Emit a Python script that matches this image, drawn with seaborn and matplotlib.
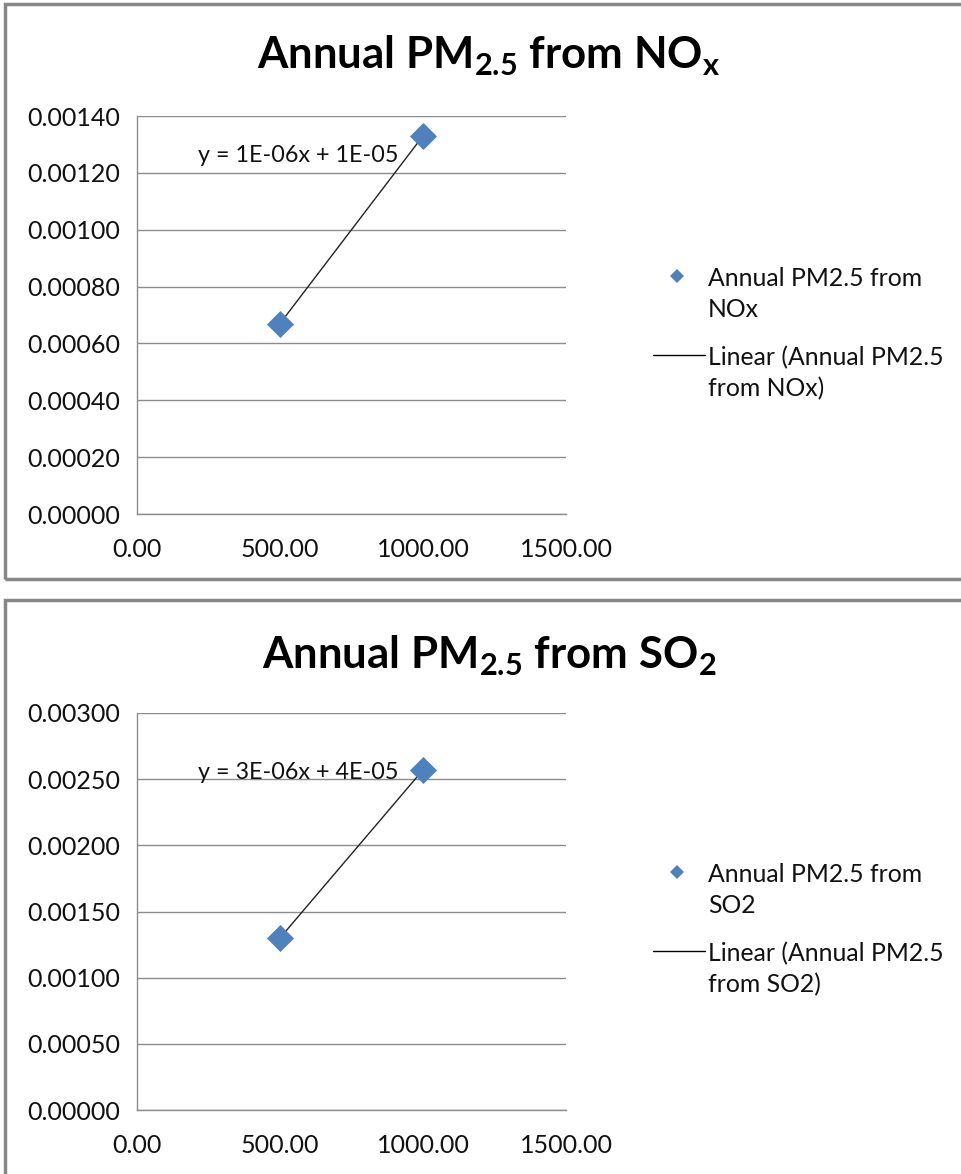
import numpy as np
import pandas as pd
import seaborn as sns
import matplotlib
matplotlib.use("Agg")
import matplotlib.pyplot as plt
from matplotlib.lines import Line2D
from matplotlib.patches import Rectangle
from matplotlib.ticker import FormatStrFormatter, MultipleLocator
from matplotlib.transforms import blended_transform_factory

# ---- data -------------------------------------------------------------
emissions = [500.0, 1000.0]
pm_from_nox = [0.00067, 0.00133]
pm_from_so2 = [0.00130, 0.00257]

titles = [r"Annual PM$_{\mathbf{2.5}}$ from NO$_{\mathbf{x}}$",
          r"Annual PM$_{\mathbf{2.5}}$ from SO$_{\mathbf{2}}$"]
series_names = ["Annual PM2.5 from\nNOx", "Annual PM2.5 from\nSO2"]
trend_names = ["Linear (Annual PM2.5\nfrom NOx)", "Linear (Annual PM2.5\nfrom SO2)"]
equations = ["y = 1E-06x + 1E-05", "y = 3E-06x + 4E-05"]
y_max = [0.0014, 0.0030]
y_step = [0.0002, 0.0005]

# ---- style ------------------------------------------------------------
sns.set_theme(style="white")
plt.rcParams["font.family"] = ["Lato", "DejaVu Sans"]
plt.rcParams["mathtext.fontset"] = "custom"
plt.rcParams["mathtext.rm"] = "Lato"
plt.rcParams["mathtext.bf"] = "Lato:bold"

W, H = 961, 1174
fig = plt.figure(figsize=(W / 100, H / 100), dpi=100)
fig.patch.set_facecolor("white")

BLUE = "#4F81BD"
GRID = "#8C8C8C"
FRAME = "#878787"
INK = "#111111"


def fx(px):
    return px / W


def fy(py):
    return 1 - py / H


# chart frames
fig.add_artist(Rectangle((fx(5), fy(579)), fx(1000), fy(4) - fy(579),
                         transform=fig.transFigure, fill=False,
                         edgecolor=FRAME, linewidth=2.5))
fig.add_artist(Rectangle((fx(5), fy(1250)), fx(1000), fy(600) - fy(1250),
                         transform=fig.transFigure, fill=False,
                         edgecolor=FRAME, linewidth=2.5))

panels = [
    dict(y=pm_from_nox, top=116, bottom=514, title_y=56, leg_y=276, eq_y=0.902),
    dict(y=pm_from_so2, top=713, bottom=1110, title_y=656, leg_y=872, eq_y=0.849),
]

for i, p in enumerate(panels):
    ax = fig.add_axes([fx(137), fy(p["bottom"]), fx(566) - fx(137),
                       fy(p["top"]) - fy(p["bottom"])])
    df = pd.DataFrame({"x": emissions, "y": p["y"]})

    # linear trendline over the data range
    sns.regplot(data=df, x="x", y="y", ax=ax, scatter=False, ci=None,
                truncate=True, color="#222222", line_kws=dict(linewidth=1.0))
    sns.scatterplot(data=df, x="x", y="y", ax=ax, marker="D", s=190,
                    color=BLUE, edgecolor=BLUE, linewidth=0, zorder=3)

    ax.set_xlim(0, 1500)
    ax.set_ylim(0, y_max[i])
    ax.xaxis.set_major_locator(MultipleLocator(500))
    ax.yaxis.set_major_locator(MultipleLocator(y_step[i]))
    ax.xaxis.set_major_formatter(FormatStrFormatter("%.2f"))
    ax.yaxis.set_major_formatter(FormatStrFormatter("%.5f"))
    ax.set_xlabel("")
    ax.set_ylabel("")
    ax.grid(axis="y", color=GRID, linewidth=1.0)
    ax.grid(axis="x", visible=False)
    ax.set_axisbelow(True)
    for side in ("top", "right"):
        ax.spines[side].set_visible(False)
    for side in ("left", "bottom"):
        ax.spines[side].set_color(GRID)
        ax.spines[side].set_linewidth(1.0)
    ax.tick_params(axis="both", which="major", direction="out", length=7,
                   width=1.0, color=GRID, labelsize=18, labelcolor=INK)
    ax.tick_params(axis="y", pad=5)
    ax.tick_params(axis="x", pad=10)
    ax.set_facecolor("none")

    # trendline equation
    ax.text(fx(298), p["eq_y"], equations[i], fontsize=16.8,
            ha="center", va="center", color=INK,
            transform=blended_transform_factory(fig.transFigure, ax.transAxes))

    # title
    fig.text(fx(489), fy(p["title_y"]), titles[i], fontsize=31.5,
             fontweight="bold", ha="center", va="center", color="black")

    # legend entries
    ly = p["leg_y"]
    fig.add_artist(Line2D([fx(677)], [fy(ly)], marker="D", markersize=7.5,
                          color=BLUE, markeredgewidth=0,
                          transform=fig.transFigure))
    fig.text(fx(708), fy(ly - 9), series_names[i], fontsize=17.8, ha="left",
             va="top", linespacing=1.4, color=INK)
    fig.add_artist(Line2D([fx(653), fx(705)], [fy(ly + 79), fy(ly + 79)],
                          color="black", linewidth=1.0,
                          transform=fig.transFigure))
    fig.text(fx(708), fy(ly + 70), trend_names[i], fontsize=17.8, ha="left",
             va="top", linespacing=1.4, color=INK)

fig.savefig("out.png", dpi=100, facecolor="white")
